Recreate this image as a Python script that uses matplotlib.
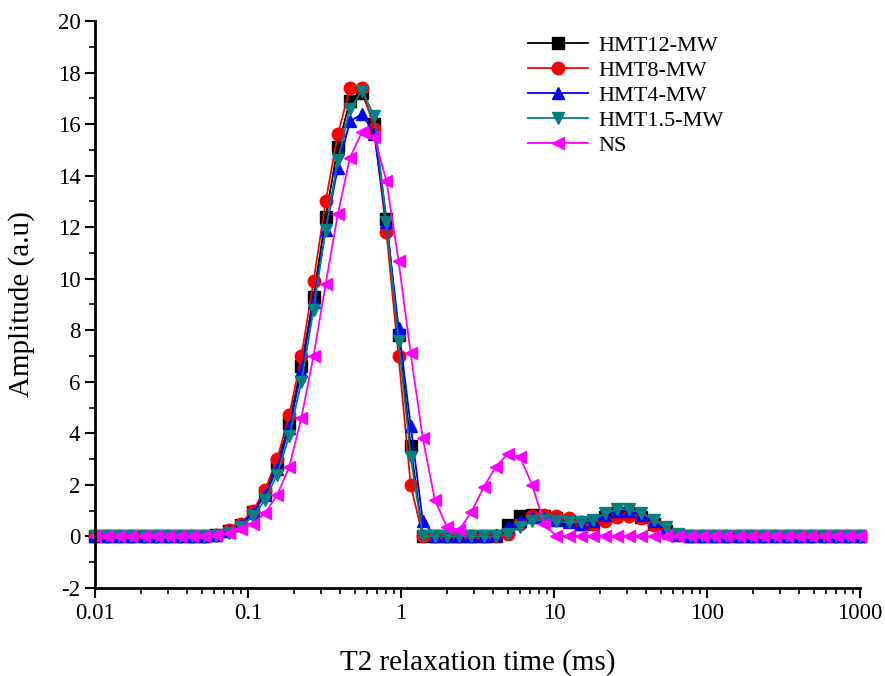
import numpy as np
import matplotlib
matplotlib.use("Agg")
import matplotlib.pyplot as plt
from matplotlib.ticker import LogLocator, MultipleLocator, FixedLocator, NullFormatter

plt.rcParams['font.family'] = ['Liberation Serif', 'DejaVu Serif']
plt.rcParams['axes.unicode_minus'] = False

# T2 grid (ms), 64 log-spaced points from 0.01 to 1000
t2 = np.logspace(-2, 3, 64)

flat10 = [0.0] * 10
tail15 = [0.0] * 15

hmt12 = flat10 + [0.05, 0.2, 0.45, 0.95, 1.7, 2.8, 4.4, 6.6, 9.3, 12.4,
                  15.1, 16.9, 17.2, 16.0, 12.3, 7.8, 3.5, 0.0, 0.0, 0.0,
                  0.0, 0.0, 0.0, 0.0, 0.45, 0.8, 0.85, 0.8, 0.7, 0.6,
                  0.5, 0.5, 0.75, 0.9, 0.9, 0.75, 0.5, 0.2, 0.05] + tail15
hmt8 = flat10 + [0.05, 0.25, 0.5, 1.0, 1.8, 3.0, 4.7, 7.0, 9.9, 13.0,
                 15.6, 17.4, 17.4, 15.8, 11.8, 7.0, 2.0, 0.0, 0.0, 0.0,
                 0.0, 0.0, 0.0, 0.0, 0.1, 0.5, 0.8, 0.85, 0.8, 0.7,
                 0.55, 0.5, 0.6, 0.75, 0.8, 0.7, 0.45, 0.15, 0.05] + tail15
hmt4 = flat10 + [0.05, 0.2, 0.45, 0.9, 1.6, 2.6, 4.2, 6.4, 9.1, 11.9,
                 14.3, 16.1, 16.4, 15.6, 12.2, 8.1, 4.3, 0.6, 0.0, 0.0,
                 0.0, 0.0, 0.0, 0.05, 0.35, 0.6, 0.75, 0.75, 0.65, 0.55,
                 0.5, 0.6, 0.85, 1.0, 1.0, 0.85, 0.6, 0.3, 0.1] + tail15
hmt15 = flat10 + [0.0, 0.15, 0.35, 0.8, 1.4, 2.4, 3.9, 6.0, 8.8, 11.9,
                  14.6, 16.6, 17.3, 16.3, 12.2, 7.6, 3.1, 0.0, 0.0, 0.0,
                  0.0, 0.0, 0.0, 0.0, 0.1, 0.35, 0.6, 0.65, 0.6, 0.55,
                  0.55, 0.65, 0.9, 1.05, 1.05, 0.9, 0.65, 0.35, 0.1] + tail15
ns = flat10 + [0.05, 0.15, 0.3, 0.5, 0.9, 1.6, 2.7, 4.6, 7.0, 9.8,
               12.5, 14.7, 15.7, 15.5, 13.8, 10.7, 7.1, 3.8, 1.4, 0.35,
               0.25, 0.95, 1.9, 2.7, 3.2, 3.1, 2.0, 0.5, 0.0, 0.0,
               0.0, 0.0, 0.0, 0.0, 0.0, 0.0, 0.0, 0.0, 0.0] + tail15

labels = ['HMT12-MW', 'HMT8-MW', 'HMT4-MW', 'HMT1.5-MW', 'NS']
colors = ['#000000', '#ff0000', '#0000ff', '#008080', '#ff00ff']
markers = ['s', 'o', '^', 'v', '<']
series = [hmt12, hmt8, hmt4, hmt15, ns]

fig = plt.figure(figsize=(8.85, 6.76), dpi=100)
ax = fig.add_axes([0.1073, 0.1302, 0.8644, 0.8388])

for y, c, m, lab in zip(series, colors, markers, labels):
    ax.plot(t2, y, color=c, marker=m, markersize=9, linewidth=1.3,
            label=lab, clip_on=False)

ax.set_xscale('log')
ax.set_xlim(0.01, 1000)
ax.set_ylim(-2, 20)
ax.xaxis.set_major_locator(FixedLocator([0.01, 0.1, 1, 10, 100, 1000]))
ax.xaxis.set_minor_locator(LogLocator(base=10, subs=np.arange(2, 10)))
ax.xaxis.set_minor_formatter(NullFormatter())
ax.set_xticklabels(['0.01', '0.1', '1', '10', '100', '1000'])
ax.yaxis.set_major_locator(MultipleLocator(2))
ax.yaxis.set_minor_locator(MultipleLocator(1))

for s in ['top', 'right']:
    ax.spines[s].set_visible(False)
for s in ['left', 'bottom']:
    ax.spines[s].set_linewidth(2)

ax.tick_params(which='major', direction='out', length=7, width=1.5, labelsize=16.5)
ax.tick_params(which='minor', direction='out', length=4, width=1.2)

ax.set_xlabel('T2 relaxation time (ms)', fontsize=21, labelpad=18)
ax.set_ylabel('Amplitude (a.u)', fontsize=21, labelpad=16)

ax.legend(loc='upper left', bbox_to_anchor=(0.54, 1.01), frameon=False,
          fontsize=16, handlelength=2.7, labelspacing=0.2, handletextpad=0.45)

fig.savefig('out.png', dpi=100)
